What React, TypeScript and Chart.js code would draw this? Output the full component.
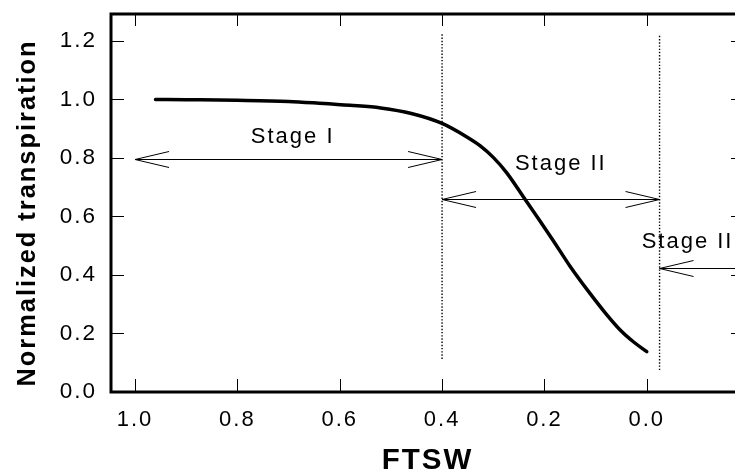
import React, { useEffect, useRef } from 'react';
import { Chart, registerables } from 'chart.js';

Chart.register(...registerables);

// Normalized transpiration response curve (FTSW vs NTR)
const ftsw = [0.96, 0.9, 0.8, 0.7, 0.64, 0.58, 0.52, 0.46, 0.4, 0.35, 0.326, 0.3, 0.274, 0.238, 0.21, 0.183, 0.15, 0.111, 0.08, 0.052, 0.025, 0.0];
const ntr = [1.0, 0.999, 0.997, 0.993, 0.987, 0.98, 0.971, 0.952, 0.918, 0.87, 0.842, 0.802, 0.75, 0.659, 0.588, 0.518, 0.43, 0.337, 0.268, 0.212, 0.17, 0.138];

// Axis ticks
const xTicks = [1.0, 0.8, 0.6, 0.4, 0.2, 0.0];
const yTicks = [0.0, 0.2, 0.4, 0.6, 0.8, 1.0, 1.2];

// Axis titles
const xTitle = 'FTSW';
const yTitle = 'Normalized transpiration';

// Stage boundaries (dotted vertical lines)
const dividerX = [0.4, -0.025];
const dividerTop = [1.227, 1.22];
const dividerBottom = [0.113, 0.075];

// Stage arrows
const arrowFrom = [1.0, 0.4, -0.025];
const arrowTo = [0.4, -0.025, -0.19];
const arrowY = [0.797, 0.659, 0.423];
const arrowHeadFrom = [true, true, true];
const arrowHeadTo = [true, true, false];

// Stage labels
const stageLabels = ['Stage I', 'Stage II', 'Stage III'];
const stageLabelX = [0.692, 0.168, 0.01];
const stageLabelY = [0.873, 0.78, 0.514];
const stageLabelAlign: CanvasTextAlign[] = ['center', 'center', 'left'];

const FONT = '"Liberation Sans", Arial, Helvetica, sans-serif';
const SPACING = '2px';

const framePlugin = {
  id: 'framePlugin',
  beforeUpdate(chart: any) {
    (chart.ctx as any).letterSpacing = SPACING;
  },
  beforeDraw(chart: any) {
    (chart.ctx as any).letterSpacing = SPACING;
  },
  afterDatasetsDraw(chart: any) {
    const ctx: CanvasRenderingContext2D = chart.ctx;
    const a = chart.chartArea;
    const xs = chart.scales.x;
    const ys = chart.scales.y;
    ctx.save();
    ctx.strokeStyle = '#000';
    ctx.fillStyle = '#000';

    // inward tick marks on all four sides
    ctx.lineWidth = 1;
    ctx.beginPath();
    for (const v of xTicks) {
      const px = Math.round(xs.getPixelForValue(v)) + 0.5;
      ctx.moveTo(px, a.bottom);
      ctx.lineTo(px, a.bottom - 13);
      ctx.moveTo(px, a.top);
      ctx.lineTo(px, a.top + 12);
    }
    for (const v of yTicks) {
      const py = Math.round(ys.getPixelForValue(v)) + 0.5;
      ctx.moveTo(a.left, py);
      ctx.lineTo(a.left + 13, py);
      ctx.moveTo(a.right, py);
      ctx.lineTo(a.right - 13, py);
    }
    ctx.stroke();

    // arrows
    const headLen = 34;
    const headHalf = 8;
    ctx.beginPath();
    for (let i = 0; i < arrowFrom.length; i++) {
      const x1 = xs.getPixelForValue(arrowFrom[i]);
      const x2 = xs.getPixelForValue(arrowTo[i]);
      const py = Math.round(ys.getPixelForValue(arrowY[i])) + 0.5;
      ctx.moveTo(x1, py);
      ctx.lineTo(x2, py);
      const dir = x2 > x1 ? 1 : -1;
      if (arrowHeadFrom[i]) {
        ctx.moveTo(x1 + dir * headLen, py - headHalf);
        ctx.lineTo(x1, py);
        ctx.lineTo(x1 + dir * headLen, py + headHalf);
      }
      if (arrowHeadTo[i]) {
        ctx.moveTo(x2 - dir * headLen, py - headHalf);
        ctx.lineTo(x2, py);
        ctx.lineTo(x2 - dir * headLen, py + headHalf);
      }
    }
    ctx.stroke();

    // stage labels
    (ctx as any).letterSpacing = SPACING;
    ctx.font = `22px ${FONT}`;
    ctx.textBaseline = 'middle';
    for (let i = 0; i < stageLabels.length; i++) {
      ctx.textAlign = stageLabelAlign[i];
      ctx.fillText(stageLabels[i], xs.getPixelForValue(stageLabelX[i]), ys.getPixelForValue(stageLabelY[i]));
    }

    // y-axis title (rotated), centred slightly below the plot middle as in the reference
    ctx.save();
    ctx.font = `bold 25.4px ${FONT}`;
    ctx.textAlign = 'center';
    ctx.textBaseline = 'middle';
    ctx.translate(28, (a.top + a.bottom) / 2 + 10);
    ctx.rotate(-Math.PI / 2);
    ctx.fillText(yTitle, 0, 0);
    ctx.restore();

    // frame
    ctx.lineWidth = 3;
    ctx.strokeRect(a.left, a.top, a.right - a.left, a.bottom - a.top);
    ctx.restore();
  },
};

export default function App() {
  const canvasRef = useRef<HTMLCanvasElement | null>(null);

  useEffect(() => {
    const canvas = canvasRef.current;
    if (!canvas) return;

    const dividerSets = dividerX.map((dx, i) => ({
      data: [
        { x: dx, y: dividerBottom[i] },
        { x: dx, y: dividerTop[i] },
      ],
      showLine: true,
      borderColor: '#000',
      borderWidth: 1.4,
      borderDash: [1.4, 1.8],
      pointRadius: 0,
      fill: false,
    }));

    const chart = new Chart(canvas, {
      type: 'scatter',
      data: {
        datasets: [
          {
            data: ftsw.map((f, i) => ({ x: f, y: ntr[i] })),
            showLine: true,
            borderColor: '#000',
            borderWidth: 3.5,
            borderCapStyle: 'round',
            cubicInterpolationMode: 'monotone',
            pointRadius: 0,
            fill: false,
          } as any,
          ...(dividerSets as any[]),
        ],
      },
      options: {
        animation: false,
        responsive: false,
        events: [],
        layout: { padding: { top: 14, right: 16, left: 0, bottom: 0 } },
        plugins: {
          legend: { display: false },
          tooltip: { enabled: false },
        },
        scales: {
          x: {
            type: 'linear',
            position: 'bottom',
            reverse: true,
            min: -0.19,
            max: 1.047,
            grid: { display: false, drawTicks: false },
            border: { display: false },
            afterBuildTicks: (s: any) => {
              s.ticks = xTicks.map((v) => ({ value: v }));
            },
            afterFit: (s: any) => {
              s.height = 81;
              s.paddingLeft = 0;
              s.paddingRight = 0;
            },
            ticks: {
              color: '#000',
              padding: 15,
              maxRotation: 0,
              autoSkip: false,
              font: { family: FONT, size: 22 },
              callback: (v: any) => Number(v).toFixed(1),
            },
            title: {
              display: true,
              text: xTitle,
              color: '#000',
              font: { family: FONT, size: 29.5, weight: 'bold', lineHeight: 0.8 },
              padding: { top: 0, bottom: 0 },
            },
          },
          y: {
            type: 'linear',
            min: 0,
            max: 1.292,
            grid: { display: false, drawTicks: false },
            border: { display: false },
            afterBuildTicks: (s: any) => {
              s.ticks = yTicks.map((v) => ({ value: v }));
            },
            afterFit: (s: any) => {
              s.width = 111;
              s.paddingTop = 0;
              s.paddingBottom = 0;
            },
            ticks: {
              color: '#000',
              padding: 14,
              autoSkip: false,
              font: { family: FONT, size: 22.5 },
              callback: (v: any) => Number(v).toFixed(1),
            },
            title: { display: false },
          },
        },
      } as any,
      plugins: [framePlugin],
    });

    return () => {
      chart.destroy();
    };
  }, []);

  return (
    <div
      style={{
        position: 'fixed',
        left: 0,
        top: 0,
        width: 735,
        height: 473,
        overflow: 'hidden',
        background: '#fff',
      }}
    >
      <canvas ref={canvasRef} width={760} height={473} style={{ width: 760, height: 473, display: 'block' }} />
    </div>
  );
}
